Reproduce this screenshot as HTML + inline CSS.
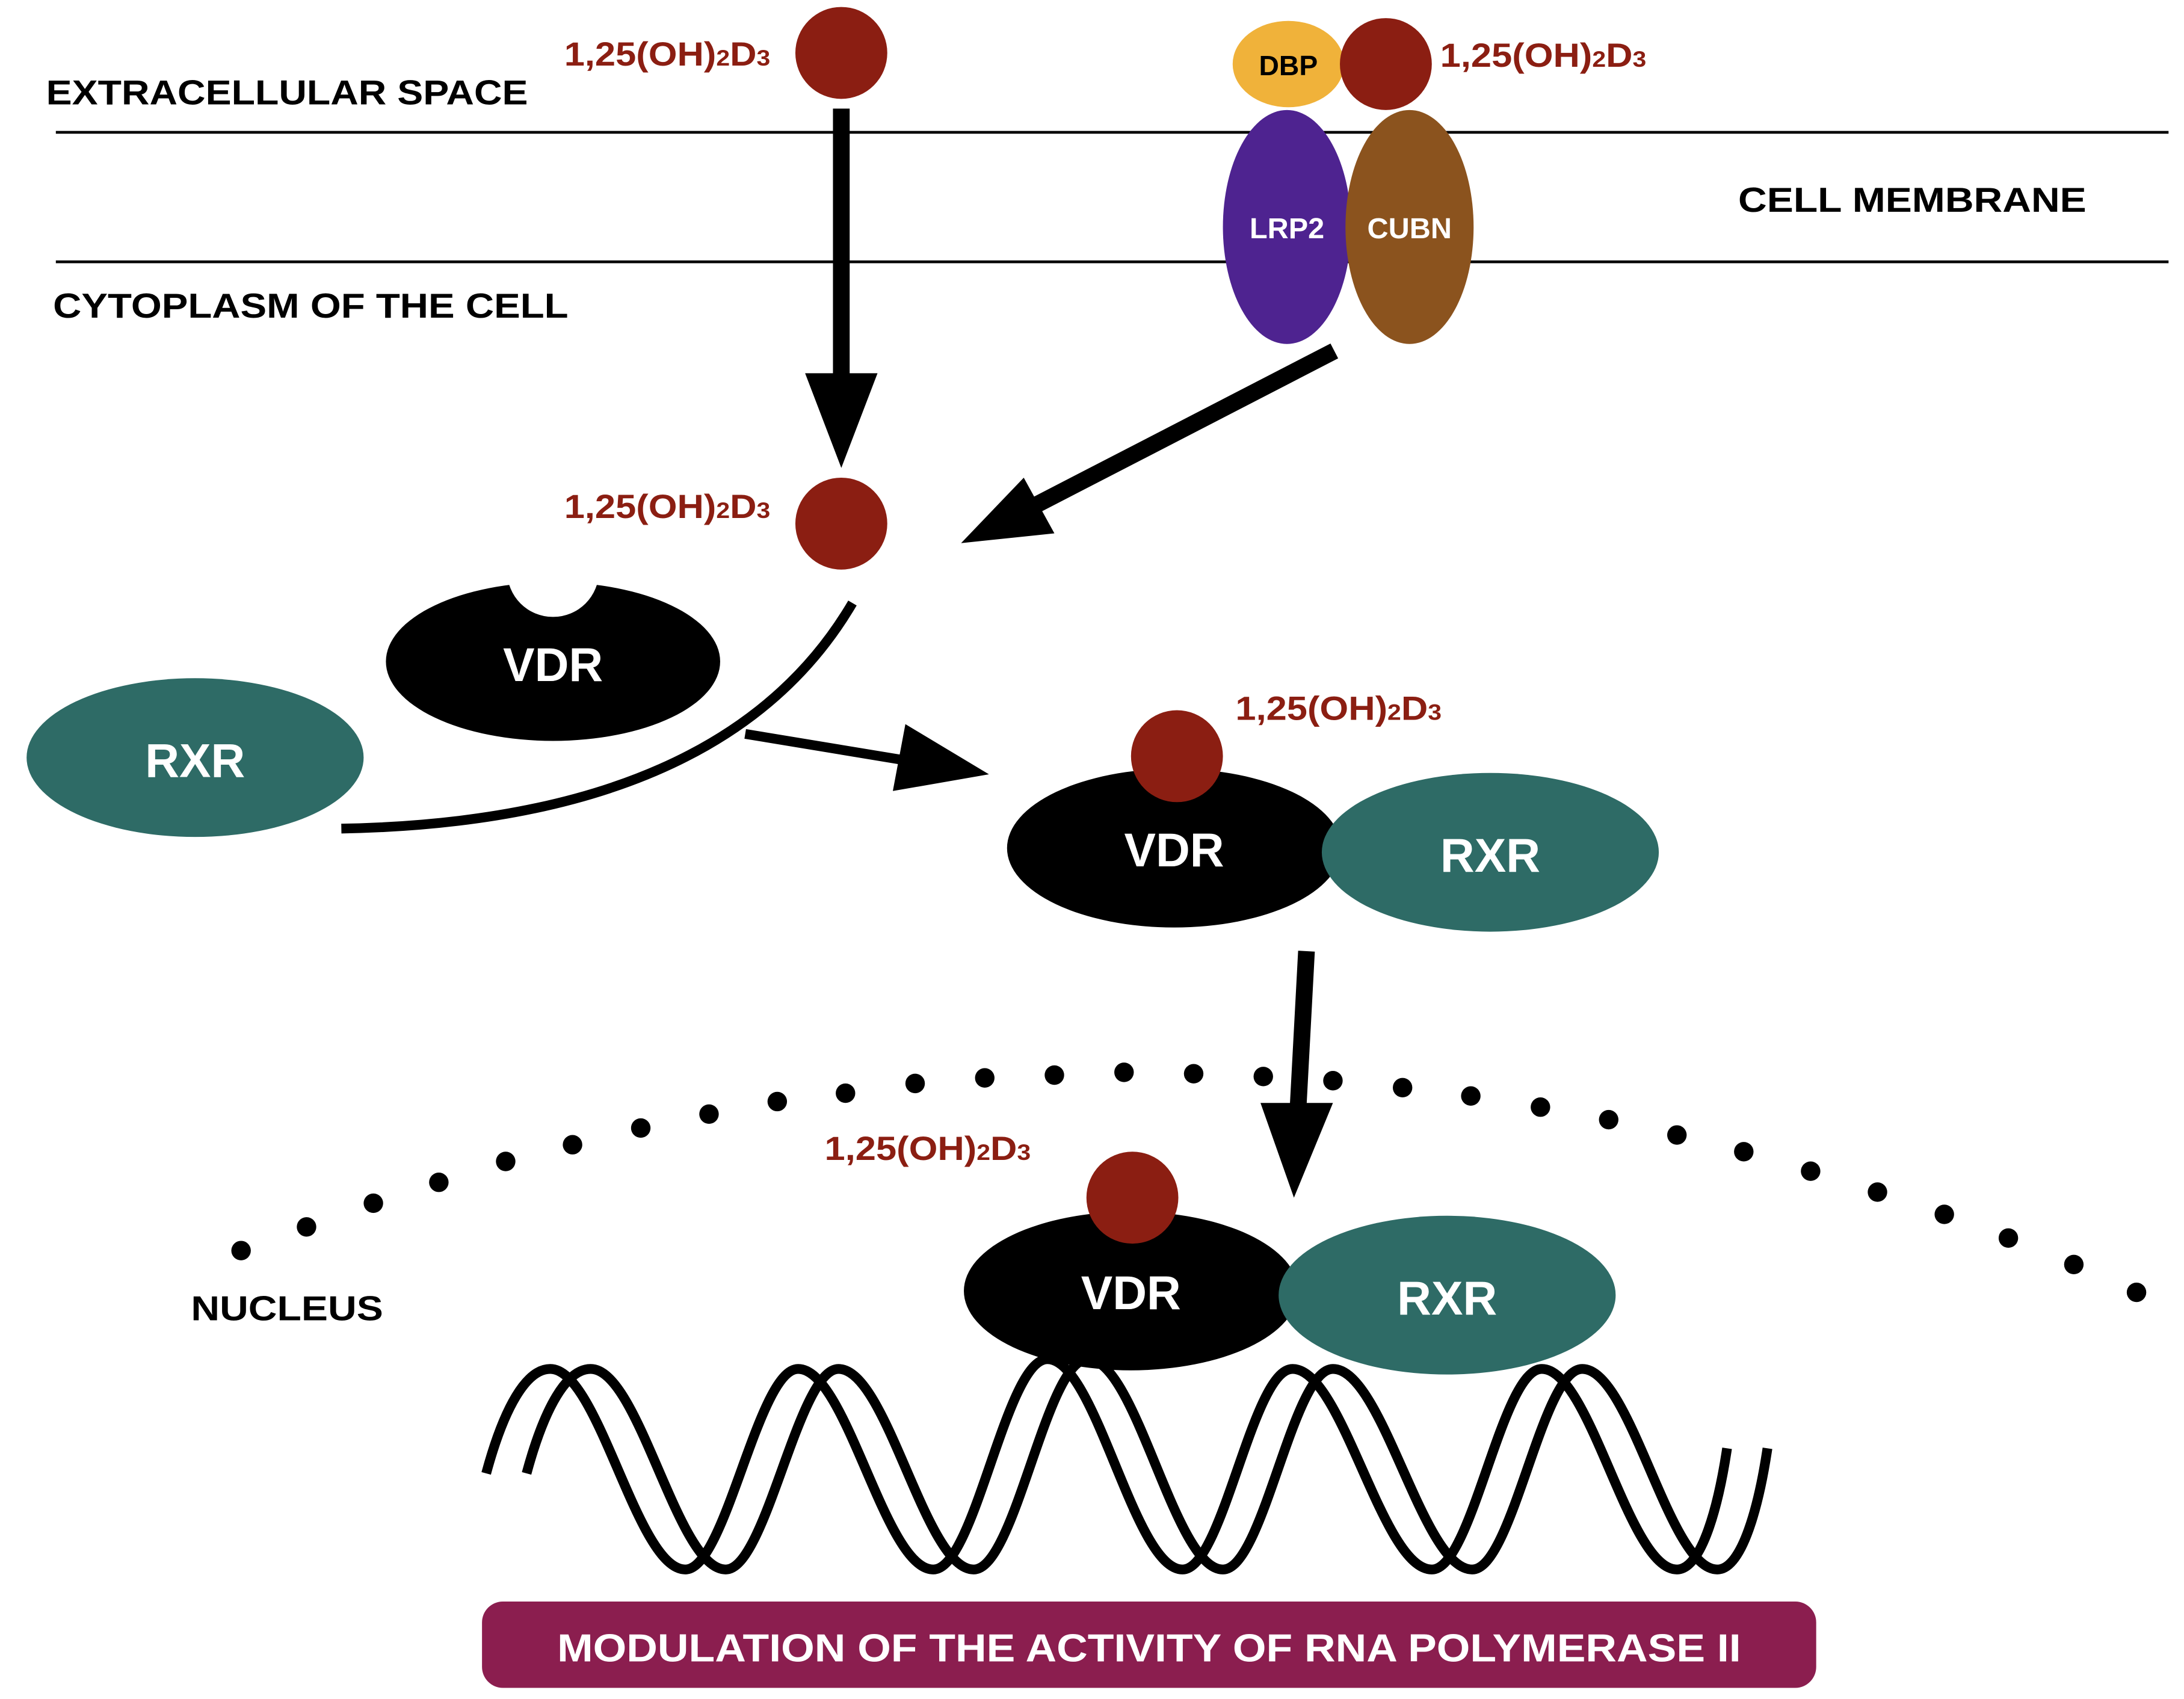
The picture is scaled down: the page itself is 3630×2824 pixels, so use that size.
<!DOCTYPE html>
<html><head><meta charset="utf-8"><style>html,body{margin:0;padding:0;background:#fff}svg{display:block}</style></head>
<body>
<svg width="3630" height="2824" viewBox="0 0 1568 1220" xmlns="http://www.w3.org/2000/svg" font-family="'Liberation Sans', Arial, sans-serif" font-weight="bold">
<rect width="1568" height="1220" fill="#fff"/>
<line x1="40" y1="95" x2="1557" y2="95" stroke="#000" stroke-width="2"/>
<line x1="40" y1="188" x2="1557" y2="188" stroke="#000" stroke-width="2"/>
<text x="33" y="75" font-size="25" textLength="346" lengthAdjust="spacingAndGlyphs">EXTRACELLULAR SPACE</text>
<text x="38" y="228" font-size="25" textLength="370" lengthAdjust="spacingAndGlyphs">CYTOPLASM OF THE CELL</text>
<text x="1248" y="152" font-size="25" textLength="250" lengthAdjust="spacingAndGlyphs">CELL MEMBRANE</text>
<text x="137" y="948" font-size="25" textLength="138" lengthAdjust="spacingAndGlyphs">NUCLEUS</text>

<ellipse cx="924" cy="163" rx="46" ry="84" fill="#4E2390"/>
<ellipse cx="1012" cy="163" rx="46" ry="84" fill="#8B531E"/>
<text x="924" y="171" font-size="21" fill="#fff" text-anchor="middle">LRP2</text>
<text x="1012" y="171" font-size="21" fill="#fff" text-anchor="middle">CUBN</text>
<ellipse cx="925" cy="46" rx="40" ry="31" fill="#F0B23A"/>
<text x="925" y="54" font-size="20" fill="#000" text-anchor="middle">DBP</text>

<g fill="#8B1E12">
<circle cx="604" cy="38" r="33"/>
<circle cx="995" cy="46" r="33"/>
<circle cx="604" cy="376" r="33"/>
</g>
<g fill="#8B1E12" font-size="24">
<text x="405" y="47" textLength="148" lengthAdjust="spacingAndGlyphs">1,25(OH)<tspan font-size="16">2</tspan>D<tspan font-size="16">3</tspan></text>
<text x="1034" y="48" textLength="148" lengthAdjust="spacingAndGlyphs">1,25(OH)<tspan font-size="16">2</tspan>D<tspan font-size="16">3</tspan></text>
<text x="405" y="372" textLength="148" lengthAdjust="spacingAndGlyphs">1,25(OH)<tspan font-size="16">2</tspan>D<tspan font-size="16">3</tspan></text>
<text x="887" y="517" textLength="148" lengthAdjust="spacingAndGlyphs">1,25(OH)<tspan font-size="16">2</tspan>D<tspan font-size="16">3</tspan></text>
<text x="592" y="833" textLength="148" lengthAdjust="spacingAndGlyphs">1,25(OH)<tspan font-size="16">2</tspan>D<tspan font-size="16">3</tspan></text>
</g>

<line x1="604" y1="78" x2="604" y2="272" stroke="#000" stroke-width="12"/>
<polygon points="578,268 630,268 604,336" fill="#000"/>
<line x1="958" y1="252" x2="745" y2="362" stroke="#000" stroke-width="12"/>
<polygon points="690,390 735,343 757,383" fill="#000"/>
<path d="M612,433 Q520,590 245,595" fill="none" stroke="#000" stroke-width="7"/>
<line x1="535" y1="527" x2="650" y2="546" stroke="#000" stroke-width="7"/>
<polygon points="710,556 650,520 641,568" fill="#000"/>
<line x1="938" y1="683" x2="932" y2="795" stroke="#000" stroke-width="12"/>
<polygon points="905,792 957,792 929,860" fill="#000"/>

<ellipse cx="397" cy="475" rx="120" ry="57" fill="#000"/>
<circle cx="397" cy="410" r="33" fill="#fff"/>
<text x="397" y="489" font-size="34" fill="#fff" text-anchor="middle">VDR</text>
<ellipse cx="140" cy="544" rx="121" ry="57" fill="#2E6B66"/>
<text x="140" y="558" font-size="34" fill="#fff" text-anchor="middle">RXR</text>

<ellipse cx="843" cy="609" rx="120" ry="57" fill="#000"/>
<ellipse cx="1070" cy="612" rx="121" ry="57" fill="#2E6B66"/>
<circle cx="845" cy="543" r="33" fill="#8B1E12"/>
<text x="843" y="622" font-size="34" fill="#fff" text-anchor="middle">VDR</text>
<text x="1070" y="626" font-size="34" fill="#fff" text-anchor="middle">RXR</text>

<g fill="#000">
<circle cx="173" cy="898" r="7"/><circle cx="220" cy="881" r="7"/><circle cx="268" cy="864" r="7"/><circle cx="315" cy="849" r="7"/><circle cx="363" cy="834" r="7"/><circle cx="411" cy="822" r="7"/><circle cx="460" cy="810" r="7"/><circle cx="509" cy="800" r="7"/><circle cx="558" cy="791" r="7"/><circle cx="607" cy="785" r="7"/><circle cx="657" cy="778" r="7"/><circle cx="707" cy="774" r="7"/><circle cx="757" cy="772" r="7"/><circle cx="807" cy="770" r="7"/><circle cx="857" cy="771" r="7"/><circle cx="907" cy="773" r="7"/><circle cx="957" cy="776" r="7"/><circle cx="1007" cy="781" r="7"/><circle cx="1056" cy="787" r="7"/><circle cx="1106" cy="795" r="7"/><circle cx="1155" cy="804" r="7"/><circle cx="1204" cy="815" r="7"/><circle cx="1252" cy="827" r="7"/><circle cx="1300" cy="841" r="7"/><circle cx="1348" cy="856" r="7"/><circle cx="1396" cy="872" r="7"/><circle cx="1442" cy="889" r="7"/><circle cx="1489" cy="908" r="7"/><circle cx="1534" cy="928" r="7"/>
</g>

<ellipse cx="812" cy="927" rx="120" ry="57" fill="#000"/>
<ellipse cx="1039" cy="930" rx="121" ry="57" fill="#2E6B66"/>
<circle cx="813" cy="860" r="33" fill="#8B1E12"/>
<text x="812" y="940" font-size="34" fill="#fff" text-anchor="middle">VDR</text>
<text x="1039" y="944" font-size="34" fill="#fff" text-anchor="middle">RXR</text>

<defs>
<path id="strand" d="M349,1058 C362,1010 378,983 395,983 C430,983 457,1127 492,1127 C521,1127 544,983 573,983 C608,983 635,1127 670,1127 C700,1127 722,976 752,976 C787,976 814,1127 849,1127 C878,1127 899,983 928,983 C964,983 992,1127 1028,1127 C1057,1127 1078,983 1107,983 C1142,983 1169,1127 1204,1127 C1222,1127 1234,1080 1240,1040" fill="none" stroke="#000" stroke-width="7"/>
</defs>
<use href="#strand"/>
<use href="#strand" transform="translate(29,0)"/>

<rect x="346" y="1150" width="958" height="62" rx="15" fill="#8B1E4F"/>
<text x="825" y="1193" font-size="28" fill="#fff" text-anchor="middle" textLength="850" lengthAdjust="spacingAndGlyphs">MODULATION OF THE ACTIVITY OF RNA POLYMERASE II</text>
</svg>
</body></html>
